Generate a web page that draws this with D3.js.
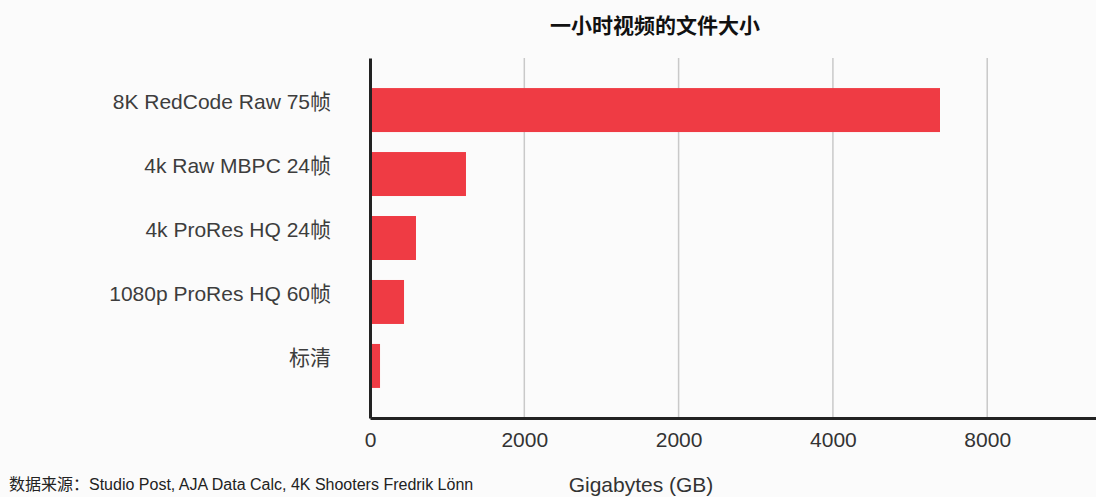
<!DOCTYPE html>
<html>
<head>
<meta charset="utf-8">
<script src="https://cdn.jsdelivr.net/npm/d3@7"></script>
<style>
  body { margin: 0; background: #fbfbfb; }
  text { font-family: 'Liberation Sans', Arial, 'Noto Sans CJK SC', sans-serif; }
</style>
</head>
<body>
<div class="canvas"></div>
<script>
// data
const categories = ['8K RedCode Raw 75帧', '4k Raw MBPC 24帧', '4k ProRes HQ 24帧', '1080p ProRes HQ 60帧', '标清'];
const sizes = [7388, 1244, 596, 441, 130];
const tickValues = [0, 2000, 4000, 6000, 8000];
const tickLabels = ['0', '2000', '2000', '4000', '8000'];

const width = 1096;
const height = 497;

const svg = d3.select('.canvas')
	.append('svg')
	.attr('width', width)
	.attr('height', height)

// plot area
const margin = { top: 58, right: 0, bottom: 79, left: 370 };
const graphWidth = width - margin.left - margin.right;
const graphHeight = height - margin.top - margin.bottom;

const graph = svg.append('g')
	.attr('transform', `translate(${margin.left}, ${margin.top})`)

// x scale runs to the right edge, ticks stop at 8000
const x = d3.scaleLinear()
	.domain([0, 9410])
	.range([0, graphWidth]);

const y = d3.scaleBand()
	.domain(categories)
	.range([0, graphHeight])
	.paddingInner(0.3125)
	.paddingOuter(0.47);

// gridlines
graph.selectAll('line.grid')
	.data(tickValues.slice(1))
	.enter()
	.append('line')
	.attr('class', 'grid')
	.attr('x1', d => x(d))
	.attr('x2', d => x(d))
	.attr('y1', 0)
	.attr('y2', graphHeight)
	.attr('stroke', '#c9c9c9')
	.attr('stroke-width', 1.5);

// bars
graph.selectAll('rect')
	.data(sizes)
	.enter()
	.append('rect')
	.attr('x', x(0) + 1)
	.attr('y', (d, i) => y(categories[i]))
	.attr('width', d => x(d) - 1)
	.attr('height', y.bandwidth())
	.attr('fill', '#ef3b44');

// axes
const xAxisGroup = graph.append('g')
	.attr('transform', `translate(0, ${graphHeight})`);
const yAxisGroup = graph.append('g');

const xAxis = d3.axisBottom(x)
	.tickValues(tickValues)
	.tickFormat((d, i) => tickLabels[i])
	.tickSize(0)
	.tickSizeOuter(0)
	.tickPadding(14);
const yAxis = d3.axisLeft(y)
	.tickSize(0)
	.tickPadding(39);

xAxisGroup.call(xAxis)
yAxisGroup.call(yAxis)

xAxisGroup.select('.domain')
	.attr('stroke', '#222')
	.attr('stroke-width', 3);
yAxisGroup.select('.domain')
	.attr('stroke', '#222')
	.attr('stroke-width', 3);

xAxisGroup.selectAll('text')
	.attr('dy', '0.71em')
	.attr('font-size', 21)
	.attr('font-family', "'Liberation Sans', Arial, sans-serif")
	.attr('fill', '#333');

yAxisGroup.selectAll('text')
	.attr('dy', '-0.05em')
	.attr('font-size', 21)
	.attr('font-family', "'Liberation Sans', Arial, 'Noto Sans CJK SC', sans-serif")
	.attr('fill', '#3d3d3d');

// title
svg.append('text')
	.attr('x', 655)
	.attr('y', 33)
	.attr('text-anchor', 'middle')
	.attr('font-size', 21)
	.attr('font-weight', 'bold')
	.attr('fill', '#111')
	.style('font-family', "'Noto Sans CJK SC', sans-serif")
	.text('一小时视频的文件大小');

// axis title
svg.append('text')
	.attr('x', 641)
	.attr('y', 492)
	.attr('text-anchor', 'middle')
	.attr('font-size', 21)
	.attr('fill', '#333')
	.text('Gigabytes (GB)');

// source
svg.append('text')
	.attr('x', 9)
	.attr('y', 490)
	.attr('font-size', 16)
	.attr('fill', '#222')
	.text('数据来源：Studio Post, AJA Data Calc, 4K Shooters Fredrik Lönn');
</script>
</body>
</html>
